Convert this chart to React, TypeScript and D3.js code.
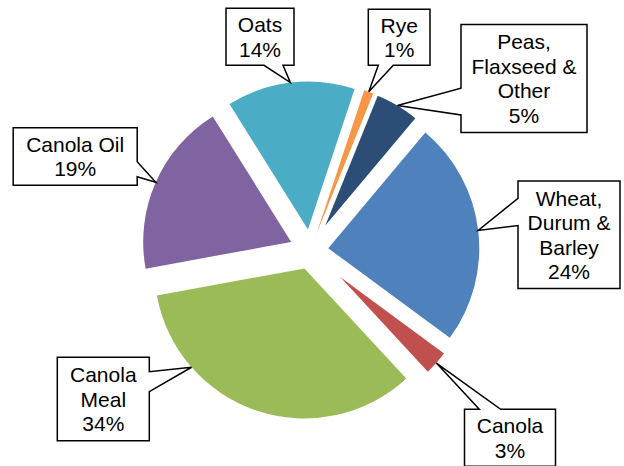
import React from "react";
import * as d3 from "d3";

const categories = [
  "Wheat, Durum & Barley",
  "Canola",
  "Canola Meal",
  "Canola Oil",
  "Oats",
  "Rye",
  "Peas, Flaxseed & Other",
];
const values = [24, 3, 34, 19, 14, 1, 5];
const colors = ["#4F81BD", "#C0504D", "#9BBB59", "#8064A2", "#4BACC6", "#F79646", "#2C4D75"];
const labelLines = [
  ["Wheat,", "Durum &", "Barley"],
  ["Canola"],
  ["Canola", "Meal"],
  ["Canola Oil"],
  ["Oats"],
  ["Rye"],
  ["Peas,", "Flaxseed &", "Other"],
];

// layout
const width = 624;
const height = 466;
const cx = 310.4;
const cy = 250.4;
const outerR = 169;
const explode = [18, 40, 19, 21, 21, 17, 29];
const startDeg = 40;

type Side = "left" | "right" | "top" | "bottom";
interface Callout {
  box: [number, number, number, number];
  side: Side;
  base: [number, number];
  tipAngle?: number;
}
const callouts: Callout[] = [
  { box: [518, 181, 102, 107.5], side: "left", base: [198.3, 225.5] },
  { box: [464.5, 409.3, 91, 57], side: "top", base: [479.3, 500.7] },
  { box: [57.3, 357.3, 92, 83.4], side: "right", base: [371.7, 391.7], tipAngle: 228.8 },
  { box: [13.2, 127.7, 124, 57.6], side: "right", base: [161.7, 176.7] },
  { box: [226, 8.3, 68, 57], side: "bottom", base: [264, 283] },
  { box: [368.3, 9.3, 61.7, 56], side: "bottom", base: [378.3, 393.3] },
  { box: [461, 24.5, 126, 108], side: "left", base: [88.3, 115] },
];

const fontSize = 21;
const lineGap = 24.5;

function calloutPath(c: Callout, tx: number, ty: number) {
  const [x, y, w, h] = c.box;
  const [b0, b1] = c.base;
  const p = d3.path();
  p.moveTo(x, y);
  if (c.side === "top") {
    p.lineTo(b0, y);
    p.lineTo(tx, ty);
    p.lineTo(b1, y);
    p.lineTo(x + w, y);
    p.lineTo(x + w, y + h);
    p.lineTo(x, y + h);
  } else if (c.side === "right") {
    p.lineTo(x + w, y);
    p.lineTo(x + w, b0);
    p.lineTo(tx, ty);
    p.lineTo(x + w, b1);
    p.lineTo(x + w, y + h);
    p.lineTo(x, y + h);
  } else if (c.side === "bottom") {
    p.lineTo(x + w, y);
    p.lineTo(x + w, y + h);
    p.lineTo(b1, y + h);
    p.lineTo(tx, ty);
    p.lineTo(b0, y + h);
    p.lineTo(x, y + h);
  } else {
    p.lineTo(x + w, y);
    p.lineTo(x + w, y + h);
    p.lineTo(x, y + h);
    p.lineTo(x, b1);
    p.lineTo(tx, ty);
    p.lineTo(x, b0);
  }
  p.closePath();
  return p.toString();
}

export default function App() {
  const start = (startDeg * Math.PI) / 180;
  const pie = d3
    .pie<number>()
    .sort(null)
    .value((d) => d)
    .startAngle(start)
    .endAngle(start + 2 * Math.PI);
  const arcs = pie(values);

  const slices = arcs.map((a, i) => {
    const mid = (a.startAngle + a.endAngle) / 2;
    const e = explode[i];
    const r = outerR - e;
    const ax = cx + e * Math.sin(mid);
    const ay = cy - e * Math.cos(mid);
    const path = d3.arc<d3.PieArcDatum<number>>().innerRadius(0).outerRadius(r)(a) || "";
    const c = callouts[i];
    const ta = c.tipAngle !== undefined ? (c.tipAngle * Math.PI) / 180 : mid;
    const tx = ax + r * Math.sin(ta);
    const ty = ay - r * Math.cos(ta);
    return { a, i, ax, ay, path, tx, ty };
  });

  return (
    <svg
      width={width}
      height={height}
      style={{ position: "absolute", left: 0, top: 0, background: "#fff" }}
      fontFamily='"Liberation Sans", Arial, sans-serif'
    >
      <rect width={width} height={height} fill="#fff" />
      {slices.map((s) => (
        <path
          key={categories[s.i]}
          d={s.path}
          transform={`translate(${s.ax},${s.ay})`}
          fill={colors[s.i]}
        />
      ))}
      {slices.map((s) => {
        const c = callouts[s.i];
        const [x, y, w, h] = c.box;
        const lines = [...labelLines[s.i], `${values[s.i]}%`];
        const midY = y + h / 2;
        const first = midY - ((lines.length - 1) / 2) * lineGap + fontSize * 0.36;
        return (
          <g key={"lbl" + s.i}>
            <path
              d={calloutPath(c, s.tx, s.ty)}
              fill="#fff"
              stroke="#000"
              strokeWidth={1.5}
              strokeLinejoin="miter"
            />
            <text x={x + w / 2} textAnchor="middle" fontSize={fontSize} fill="#000">
              {lines.map((t, k) => (
                <tspan key={k} x={x + w / 2} y={first + k * lineGap}>
                  {t}
                </tspan>
              ))}
            </text>
          </g>
        );
      })}
    </svg>
  );
}
